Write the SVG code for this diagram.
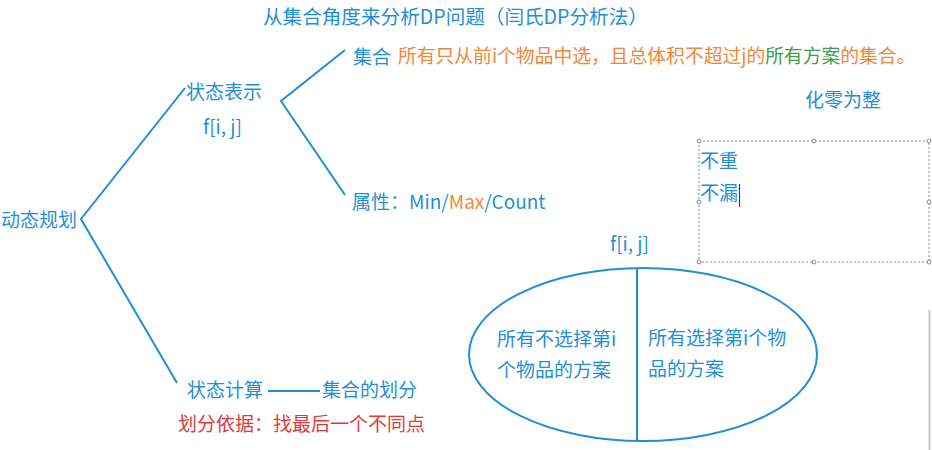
<svg xmlns="http://www.w3.org/2000/svg" width="932" height="450" viewBox="0 0 932 450">
<style>
text{font-family:"Noto Sans CJK SC","Noto Sans",sans-serif;font-size:19px}
.b{fill:#1f8fd6}
.o{fill:#f0883a}
.g{fill:#3d9e4c}
.r{fill:#e03a3a}
.ln{stroke:#1f8fd6;stroke-width:2;fill:none}
.h{fill:#fff;stroke:#8a8a8a;stroke-width:1}
</style>
<rect width="932" height="450" fill="#fff"/>
<g id="connectors">
<polyline class="ln" points="185,88 81,219 177,383"/>
<polyline class="ln" points="345,50 281,101 345,195"/>
<line class="ln" x1="268" y1="391" x2="320" y2="391"/>
</g>
<g id="title"><text class="b" x="263" y="24" style="font-size:19.6px">从集合角度来分析DP问题（闫氏DP分析法）</text></g>
<g id="dp"><text class="b" x="1" y="227">动态规划</text></g>
<g id="state-repr"><text class="b" x="186" y="99">状态表示</text><text class="b" x="203" y="134">f[i, j]</text></g>
<g id="set"><text class="b" x="353" y="64">集合</text>
<text x="398" y="63" style="font-size:18.8px"><tspan class="o">所有只从前i个物品中选，且总体积不超过j的</tspan><tspan class="g">所有方案</tspan><tspan class="o">的集合。</tspan></text></g>
<g id="attr"><text class="b" x="352" y="209">属性：Min/<tspan class="o">Max</tspan>/Count</text></g>
<g id="hualing"><text class="b" x="805" y="107">化零为整</text></g>
<g id="note-box">
<rect x="699" y="141" width="230" height="121" fill="none" stroke="#8a8a8a" stroke-width="1" stroke-dasharray="2,2"/>
<circle class="h" cx="699" cy="141" r="2"/><circle class="h" cx="814" cy="141" r="2"/><circle class="h" cx="929" cy="141" r="2"/>
<circle class="h" cx="699" cy="202" r="2"/><circle class="h" cx="929" cy="202" r="2"/>
<circle class="h" cx="699" cy="262" r="2"/><circle class="h" cx="814" cy="262" r="2"/><circle class="h" cx="929" cy="262" r="2"/>
<text class="b" x="700" y="168">不重</text>
<text class="b" x="700" y="200">不漏</text>
<line x1="739.5" y1="184" x2="739.5" y2="207" stroke="#444" stroke-width="1.2"/>
</g>
<g id="set-ellipse">
<text class="b" x="610" y="251">f[i, j]</text>
<ellipse class="ln" cx="643" cy="354.5" rx="174" ry="86.5"/>
<line class="ln" x1="637" y1="268" x2="637" y2="441"/>
<text class="b" x="497" y="346">所有不选择第i</text>
<text class="b" x="497" y="377">个物品的方案</text>
<text class="b" x="648" y="345">所有选择第i个物</text>
<text class="b" x="648" y="376">品的方案</text>
</g>
<g id="state-calc">
<text class="b" x="187" y="397">状态计算</text>
<text class="b" x="322" y="397">集合的划分</text>
<text class="r" x="178" y="431">划分依据：找最后一个不同点</text>
</g>
<line x1="929.5" y1="310" x2="929.5" y2="450" stroke="#c8c8c8" stroke-width="2"/>
</svg>
